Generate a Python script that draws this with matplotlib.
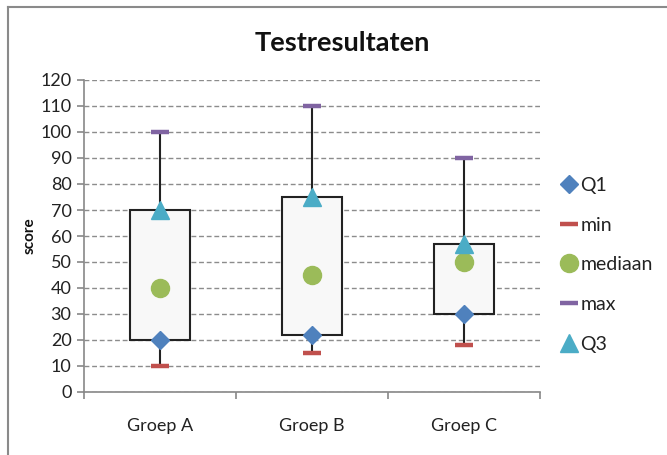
import matplotlib
matplotlib.use("Agg")
import matplotlib.pyplot as plt
from matplotlib.lines import Line2D

categories = ["Groep A", "Groep B", "Groep C"]
q1 = [20, 22, 30]
vmin = [10, 15, 18]
mediaan = [40, 45, 50]
vmax = [100, 110, 90]
q3 = [70, 75, 57]
yticks = list(range(0, 121, 10))

plt.rcParams['font.family'] = ['Lato', 'DejaVu Sans']

fig = plt.figure(figsize=(6.67, 4.55), dpi=100)
ax = fig.add_axes([84/667, 1-392/455, (540-84)/667, (392-80)/455])

x = list(range(len(categories)))
# whiskers
for i in x:
    ax.plot([i, i], [vmin[i], vmax[i]], color='#222222', lw=1.5, zorder=2)
# boxes
ax.bar(x, [q3[i]-q1[i] for i in x], bottom=q1, width=0.4,
       color='#F8F8F8', edgecolor='#222222', linewidth=1.5, zorder=3)

ms_dash = dict(marker='_', markersize=13, markeredgewidth=3.2, linestyle='none')
ax.plot(x, q1, marker='D', markersize=9, color='#4F81BD', linestyle='none', zorder=5, label='Q1')
ax.plot(x, vmin, color='#C0504D', zorder=5, label='min', **ms_dash)
ax.plot(x, mediaan, marker='o', markersize=13, color='#9BBB59', linestyle='none', zorder=5, label='mediaan')
ax.plot(x, vmax, color='#8064A2', zorder=5, label='max', **ms_dash)
ax.plot(x, q3, marker='^', markersize=12.5, color='#4BACC6', linestyle='none', zorder=5, label='Q3')

ax.set_xlim(-0.5, 2.5)
ax.set_ylim(0, 120)
ax.set_yticks(yticks)
ax.set_yticklabels([str(v) for v in yticks], fontsize=13, color='#222222')
ax.yaxis.grid(True, linestyle=(0, (3.5, 2)), color='#8c8c8c', linewidth=1)
ax.set_axisbelow(True)

ax.set_xticks(x)
ax.set_xticklabels(categories, fontsize=13, color='#222222')
ax.tick_params(axis='x', which='major', length=0, pad=19)
ax.set_xticks([-0.5, 0.5, 1.5, 2.5], minor=True)
ax.tick_params(axis='x', which='minor', length=5, color='#888888', width=1.2)
ax.tick_params(axis='y', length=5, color='#888888', width=1.2, pad=4)

for s in ['top', 'right']:
    ax.spines[s].set_visible(False)
for s in ['left', 'bottom']:
    ax.spines[s].set_color('#888888')
    ax.spines[s].set_linewidth(1.2)

ax.set_ylabel('score', fontsize=11, fontweight='bold', labelpad=3, color='#111111')

fig.text(342/667, 1-43/455, 'Testresultaten', ha='center', va='center',
         fontsize=19.5, fontweight='bold', color='#111111')

handles, labels = ax.get_legend_handles_labels()
fig.legend(handles, labels, loc='upper left', bbox_to_anchor=(552/667, 1-169/455),
           frameon=False, fontsize=14, labelspacing=1.17, handlelength=0.9,
           handletextpad=0.15, borderaxespad=0, labelcolor='#222222')

# outer chart frame (partially cropped)
fig.add_artist(Line2D([8/667, 8/667], [0, 1-7/455], transform=fig.transFigure,
                      color='#8a8a8a', lw=1.5))
fig.add_artist(Line2D([8/667, 1], [1-7/455, 1-7/455], transform=fig.transFigure,
                      color='#8a8a8a', lw=1.5))

fig.savefig('out.png', dpi=100)
